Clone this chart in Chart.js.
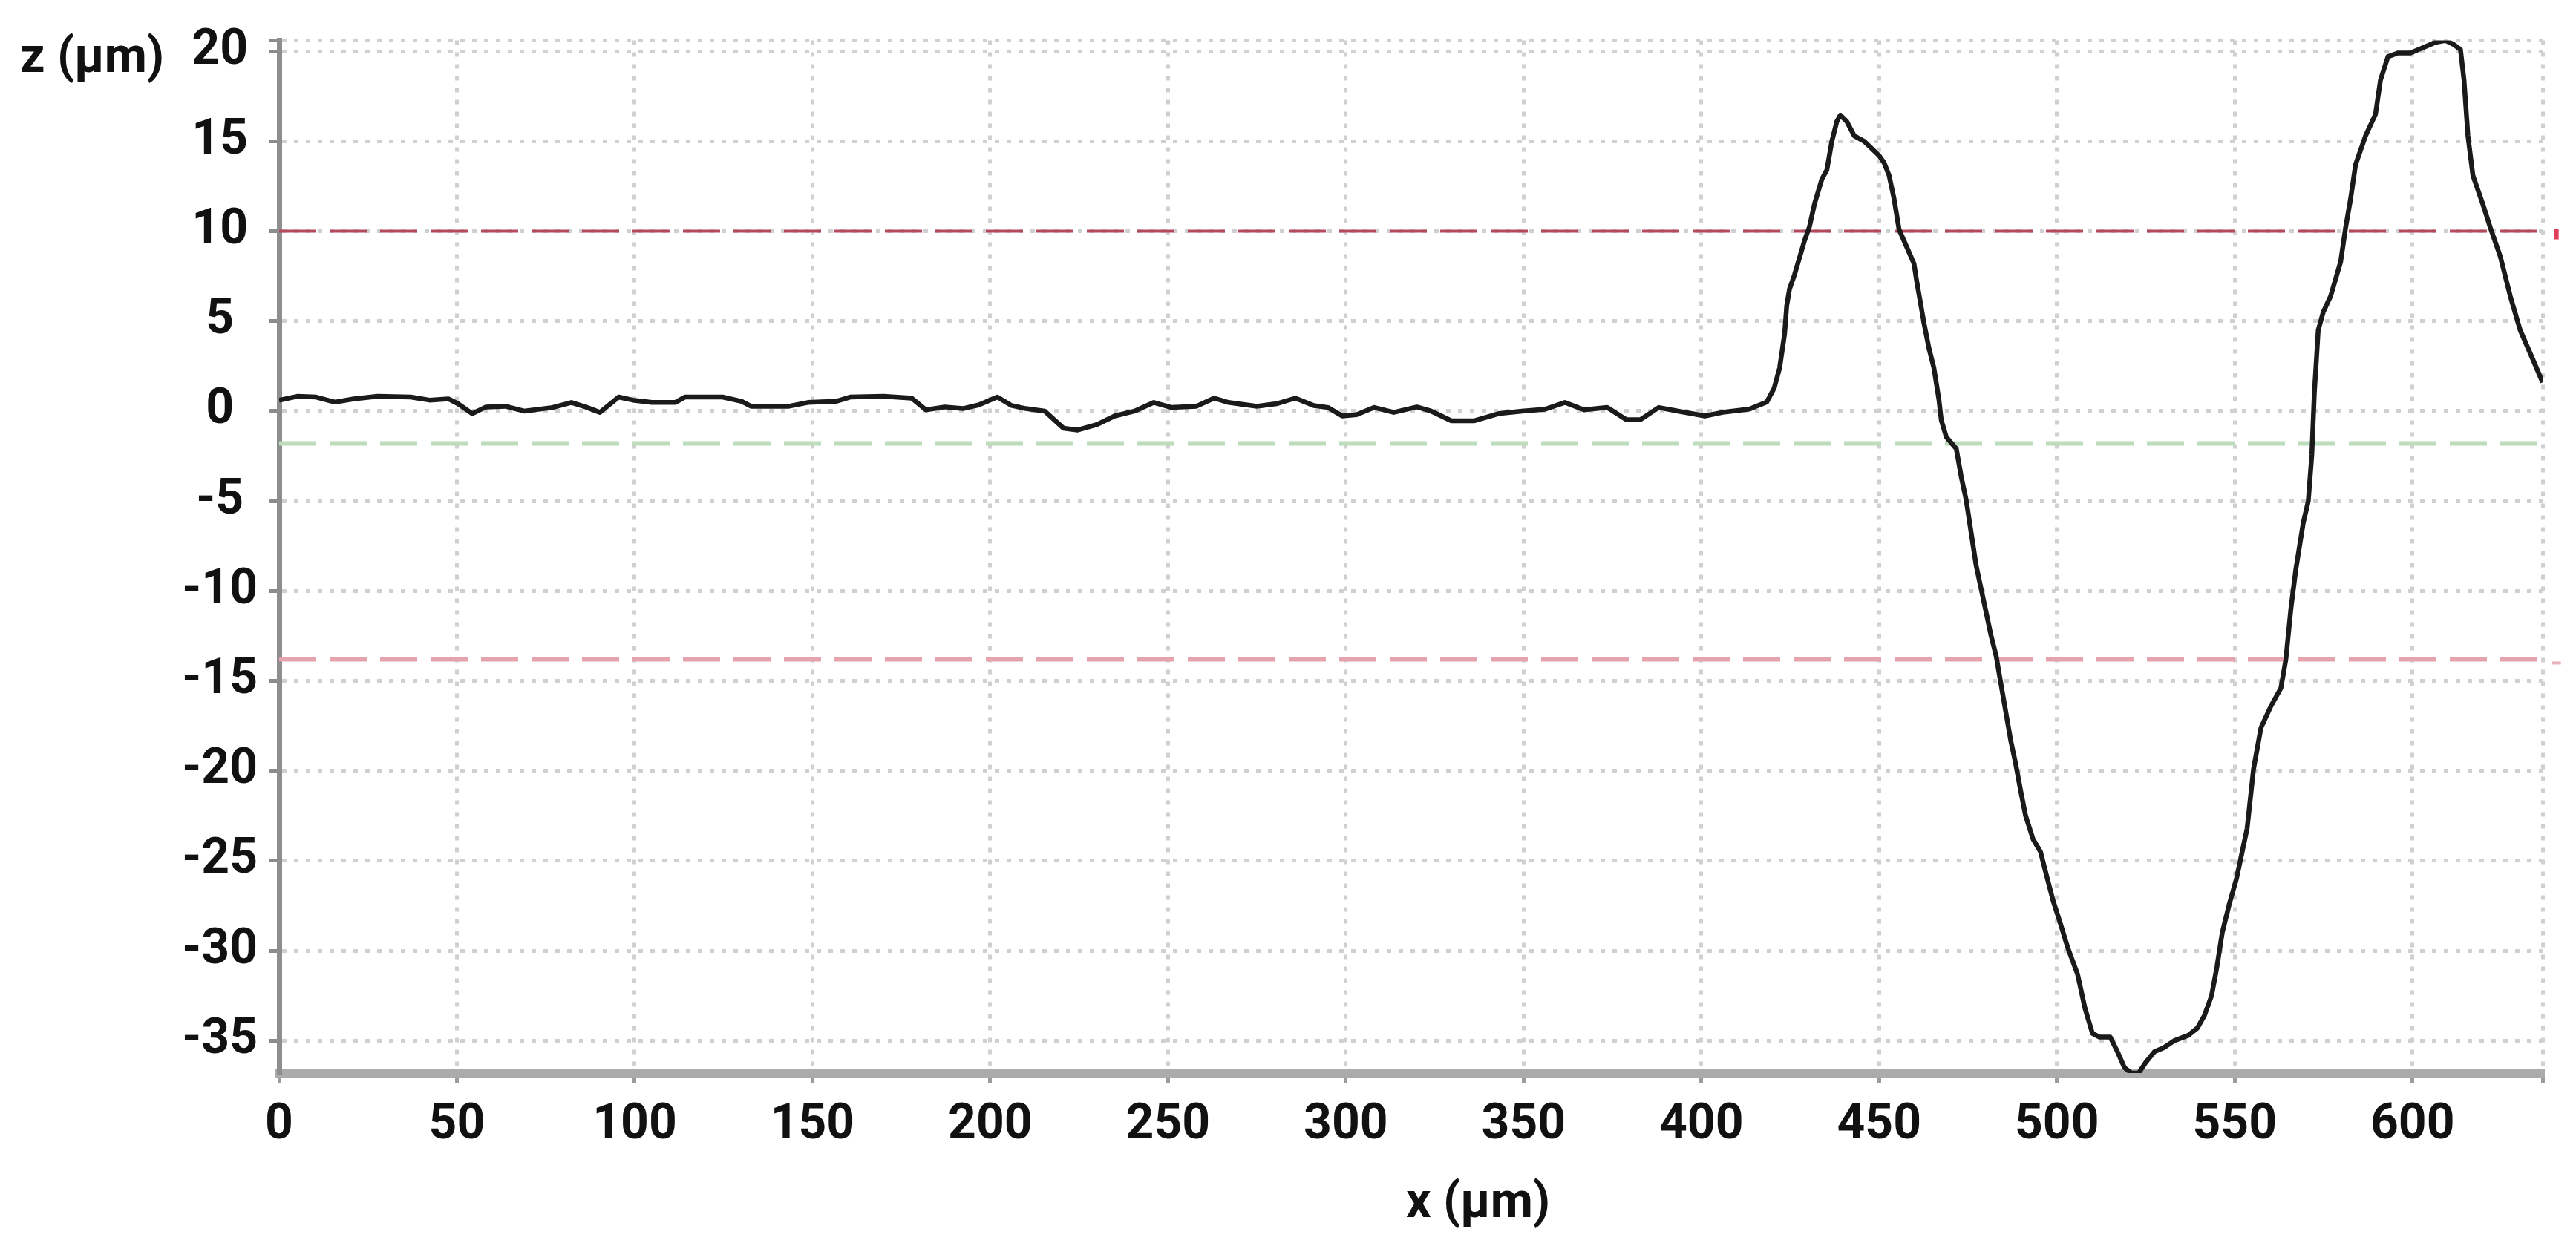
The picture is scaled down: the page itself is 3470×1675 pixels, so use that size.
<!DOCTYPE html>
<html>
<head>
<meta charset="utf-8">
<title>Surface profile</title>
<script src="https://cdn.jsdelivr.net/npm/chart.js@4.4.1/dist/chart.umd.min.js"></script>
<style>
  html, body { margin: 0; padding: 0; background: #fff; }
  #profileChart { display: block; }
</style>
</head>
<body>
<canvas id="profileChart" width="3470" height="1675"></canvas>
<script>
// profile: x (µm) and z (µm)
const profileX = [
  0, 5.1, 10.4, 15.7, 21.0, 27.7, 37.0, 42.3, 47.6, 50.3, 54.3, 58.2, 63.6, 68.9, 76.9, 82.2, 86.2, 90.2, 95.5, 99.5,
  104.8, 111.4, 114.1, 124.7, 130.1, 132.7, 143.4, 148.7, 156.6, 160.6, 170.0, 177.9, 181.9, 187.2, 192.3, 196.7,
  202, 206, 210, 215.3, 220.6, 224.6, 230, 235, 240.6, 246, 251, 258, 263, 267, 275, 280.5, 285.8, 291, 295, 299,
  303, 308, 313.5, 320, 324, 329.7, 336, 343, 349.6, 356, 361.6, 367, 373.5, 378.9, 382.8, 388, 393.5, 401,
  406.5, 413.5, 418.4, 420.5, 422, 423.4, 424, 424.8, 426.2, 427.6, 429, 430.4, 431.8, 433.9, 435.3, 436.7, 438.1,
  439.1, 440.9, 443, 445.8, 450, 451.4, 452.8, 454.2, 455.6, 457.7, 459.8, 460.5, 461.9, 462.6, 464, 465.4, 466.8,
  467.5, 468.9, 471.7, 473.1, 474.5, 475.9, 477.3, 478.7, 480.1, 481.5, 482.9, 484.2, 485.6, 487, 488.4, 489.8,
  491.2, 493.3, 495.4, 496.8, 498.9, 501, 503, 505.8, 507.9, 510, 512, 515, 517, 519, 521, 523, 525, 527.5, 530,
  533, 537, 539.5, 541.5, 543.5, 545, 546.5, 548.5, 550.5, 552, 553.5, 555.3, 557.4, 560.2, 563, 564.4, 565.8,
  567.2, 569.3, 570.7, 571.7, 572.4, 573.5, 574.9, 577, 579.8, 581.2, 582.6, 584, 586.8, 589.6, 591, 593.1, 595.9,
  599.4, 603, 606.5, 609.3, 611.4, 613.5, 614.5, 615.6, 617, 619.8, 621.9, 624.7, 627.5, 630.3, 633.8, 636.6
];
const profileZ = [
  0.60, 0.82, 0.78, 0.50, 0.68, 0.82, 0.78, 0.61, 0.68, 0.41, -0.14, 0.23, 0.27, 0.0, 0.20, 0.48, 0.23, -0.07, 0.78, 0.61,
  0.48, 0.48, 0.78, 0.78, 0.54, 0.27, 0.27, 0.48, 0.54, 0.78, 0.82, 0.72, 0.07, 0.23, 0.14, 0.34,
  0.78, 0.31, 0.14, 0, -0.95, -1.05, -0.75, -0.27, 0, 0.48, 0.2, 0.27, 0.72, 0.48, 0.27, 0.41, 0.72, 0.31, 0.20, -0.27,
  -0.2, 0.2, -0.07, 0.23, 0, -0.54, -0.54, -0.14, 0, 0.1, 0.48, 0.07, 0.2, -0.48, -0.48, 0.2, 0, -0.27,
  -0.05, 0.11, 0.5, 1.29, 2.39, 4.28, 5.85, 6.79, 7.58, 8.52, 9.47, 10.25, 11.5, 12.9, 13.4, 15, 16.1,
  16.45, 16.1, 15.3, 15, 14.2, 13.8, 13.1, 11.8, 10.1, 9.15, 8.2, 7.3, 5.7, 4.9, 3.5, 2.4, 0.66,
  -0.52, -1.44, -2.09, -3.66, -4.96, -6.79, -8.6, -9.9, -11.2, -12.5, -13.6, -15.1, -16.7, -18.3, -19.6, -21.1,
  -22.5, -23.8, -24.5, -25.6, -27.2, -28.5, -29.8, -31.3, -33.2, -34.6, -34.8, -34.8, -35.6, -36.5, -36.8, -36.8, -36.2, -35.6, -35.4,
  -35.0, -34.7, -34.3, -33.6, -32.5, -30.9, -29.0, -27.4, -26.0, -24.6, -23.2, -19.9, -17.6, -16.4, -15.4, -13.8, -11,
  -8.8, -6.2, -5.0, -2.4, 1.0, 4.5, 5.5, 6.4, 8.3, 10.2, 11.8, 13.7, 15.3, 16.5, 18.4, 19.7, 19.9,
  19.9, 20.2, 20.5, 20.6, 20.4, 20.1, 18.4, 15.3, 13.1, 11.5, 10.2, 8.6, 6.4, 4.5, 2.9, 1.6
];

const xTicks = [0, 50, 100, 150, 200, 250, 300, 350, 400, 450, 500, 550, 600];
const zTicks = [-35, -30, -25, -20, -15, -10, -5, 0, 5, 10, 15, 20];
const xRange = [0, 636.6];
const zRange = [-36.8, 20.6];

// horizontal reference levels (z) and the little marks past the right edge
const refLevels = [10, -1.8, -13.8];
const markerLevels = [10, -13.8];
const markerX = 640.5;

const refColors = ['#b34a5e', '#bcdcbc', '#e4a3ad'];
const refWidths = [4, 6, 6];
const markerColors = ['#e0405a', '#e8b0b8'];

const labelFont = { family: 'Roboto', weight: 'bold', size: 66 };

const axisTitles = {
  id: 'axisTitles',
  afterDraw(chart) {
    const ctx = chart.ctx;
    const { x, y } = chart.scales;
    ctx.save();
    // small marks at the end of the red levels, outside the plot
    markerLevels.forEach((level, i) => {
      const px = x.getPixelForValue(markerX);
      const py = y.getPixelForValue(level);
      ctx.fillStyle = markerColors[i];
      if (i === 0) {
        ctx.fillRect(px - 3, py - 3, 6, 14);
      } else {
        ctx.fillRect(px - 6, py + 3, 12, 4);
      }
    });
    ctx.fillStyle = '#111';
    ctx.font = 'bold 66px Roboto';
    ctx.textBaseline = 'alphabetic';
    ctx.textAlign = 'left';
    ctx.fillText('z (µm)', 27, 97);
    ctx.textAlign = 'center';
    ctx.fillText('x (µm)', 1991, 1640);
    ctx.restore();
  }
};

function draw() {
  const canvas = document.getElementById('profileChart');
  const toPoints = (xs, ys) => xs.map((x, i) => ({ x, y: ys[i] }));

  const refDatasets = refLevels.map((level, i) => ({
    data: [{ x: xRange[0], y: level }, { x: xRange[1], y: level }],
    borderColor: refColors[i],
    borderWidth: refWidths[i],
    borderDash: [50, 18],
    pointRadius: 0,
    order: 2
  }));

  new Chart(canvas, {
    type: 'line',
    data: {
      datasets: [
        {
          data: toPoints(profileX, profileZ),
          borderColor: '#1a1a1a',
          borderWidth: 6.5,
          borderJoinStyle: 'round',
          pointRadius: 0,
          tension: 0,
          order: 0
        },
        ...refDatasets
      ]
    },
    options: {
      responsive: false,
      animation: false,
      devicePixelRatio: 1,
      layout: { padding: { top: 41, right: 45, left: 0, bottom: 0 } },
      plugins: {
        legend: { display: false },
        tooltip: { enabled: false }
      },
      scales: {
        x: {
          type: 'linear',
          min: xRange[0],
          max: xRange[1],
          afterBuildTicks: (scale) => {
            scale.ticks = xTicks.concat([xRange[1]]).map((value) => ({ value }));
          },
          afterFit: (scale) => { scale.height = 229; },
          ticks: {
            autoSkip: false,
            maxRotation: 0,
            padding: 18,
            color: '#111',
            font: labelFont,
            callback: (value) => (xTicks.includes(value) ? String(value) : '')
          },
          grid: { color: '#d0d0d0', lineWidth: 5, tickColor: '#9c9c9c', tickLength: 14, tickWidth: 5 },
          border: { color: '#ababab', width: 11, dash: [6, 10] }
        },
        y: {
          type: 'linear',
          min: zRange[0],
          max: zRange[1],
          afterBuildTicks: (scale) => {
            scale.ticks = zTicks.concat([zRange[1]]).map((value) => ({ value }));
          },
          afterFit: (scale) => { scale.width = 376; },
          ticks: {
            autoSkip: false,
            crossAlign: 'center',
            padding: 15,
            color: '#111',
            font: labelFont,
            callback: (value) => (zTicks.includes(value) ? String(value) : '')
          },
          grid: { color: '#d0d0d0', lineWidth: 5, tickColor: '#8c8c8c', tickLength: 14, tickWidth: 5 },
          border: { color: '#8e8e8e', width: 7, dash: [6, 10] }
        }
      }
    },
    plugins: [axisTitles]
  });
}

document.addEventListener('DOMContentLoaded', () => {
  if (document.fonts && document.fonts.load) {
    document.fonts.load('bold 66px Roboto').then(draw, draw);
  } else {
    draw();
  }
});
</script>
</body>
</html>
